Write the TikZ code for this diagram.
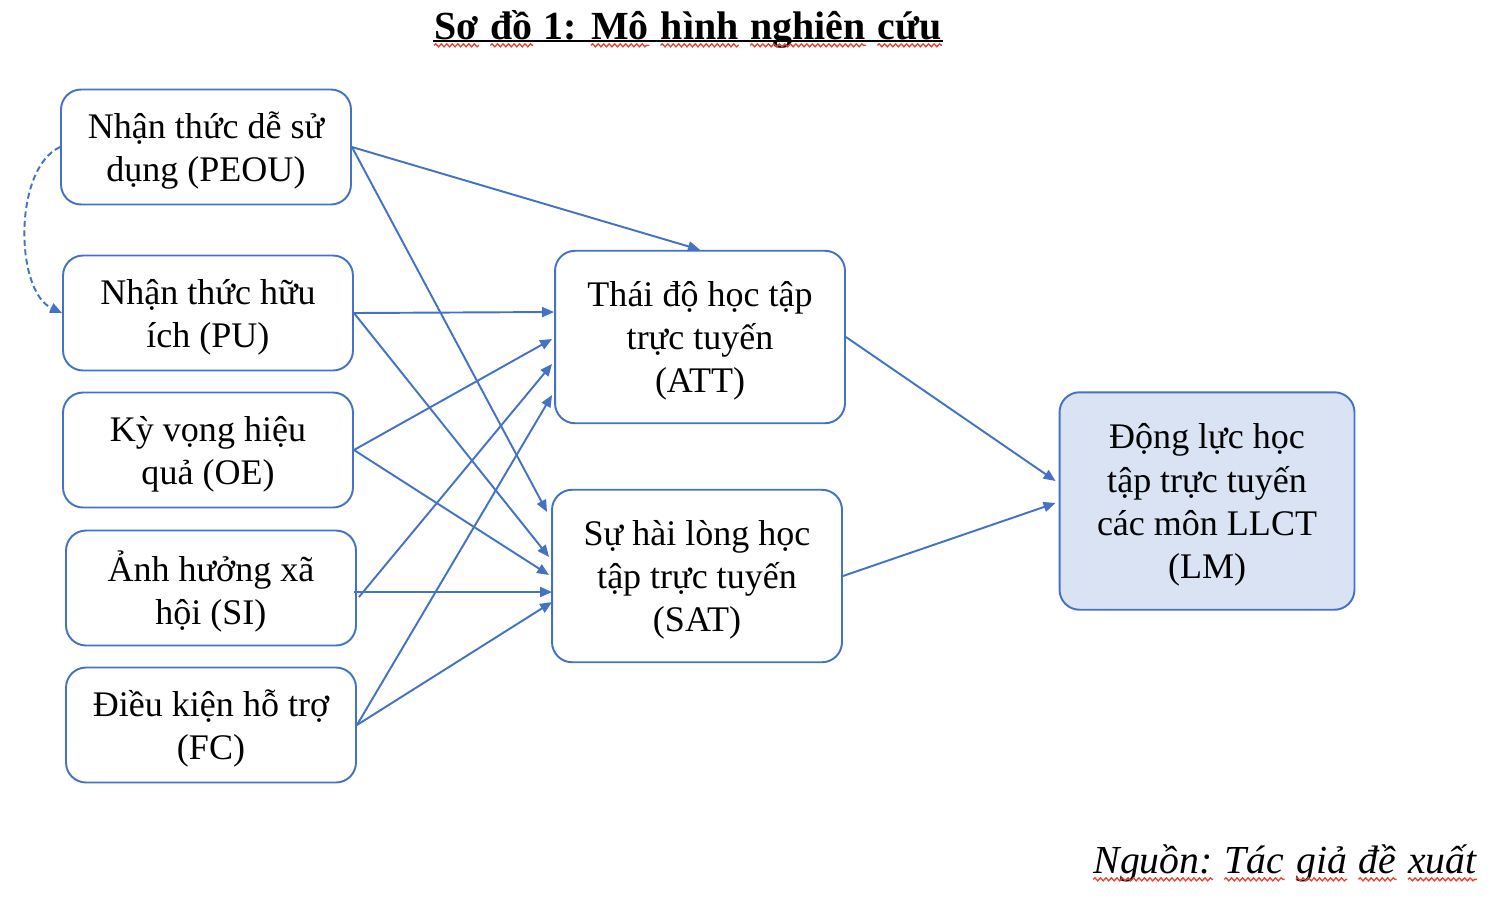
\documentclass[tikz,border=0pt]{standalone}
\usepackage{fontspec}
\setmainfont{Liberation Serif}
\usetikzlibrary{arrows.meta,calc,decorations.pathmorphing}
\definecolor{linkblue}{HTML}{4472C4}
\definecolor{lmfill}{HTML}{DAE3F3}
\definecolor{spellred}{HTML}{E8412E}
\tikzset{
  factor/.style={draw=linkblue, line width=1.1pt, rounded corners=0.4cm, align=center,
    minimum width=5.8cm, minimum height=2.3cm, inner sep=0pt, text depth=-1.5pt,
    font=\fontsize{20.5}{24.5}\selectfont},
  link/.style={draw=linkblue, line width=1.1pt, -{Triangle[length=0.24cm,width=0.2cm]}},
  squiggle/.style={draw=spellred, line width=0.75pt, decorate,
    decoration={snake,amplitude=0.03cm,segment length=0.11cm}}
}
%% red spell-check wave under a word
\newcommand\spellword[1]{\tikz[baseline=(w.base)]{\node[inner sep=0pt, anchor=base] (w) {#1};
  \draw[squiggle] ([yshift=-3.6pt]w.base west) -- ([yshift=-3.6pt]w.base east);}}
\begin{document}
\begin{tikzpicture}[x=0.02cm,y=-0.02cm]
    \useasboundingbox (0,0) rectangle (1500,914);
    %% title
    \node[font=\fontsize{22.7}{27}\selectfont\bfseries, inner sep=0pt, anchor=base] (title) at (688,39)
        {\spellword{Sơ} \spellword{đồ} 1: \spellword{Mô} \spellword{hình} \spellword{nghiên} \spellword{cứu}};
    \draw[line width=1pt] ([yshift=-1.2pt]title.base west) -- ([yshift=-1.2pt]title.base east);
    %% factors
    \node[factor] (peou) at (206,147) {Nhận thức dễ sử\\dụng (PEOU)};
    \node[factor] (pu) at (208,313) {Nhận thức hữu\\ích (PU)};
    \node[factor] (oe) at (208,450) {Kỳ vọng hiệu\\quả (OE)};
    \node[factor] (si) at (211,588) {Ảnh hưởng xã\\hội (SI)};
    \node[factor] (fc) at (211,725) {Điều kiện hỗ trợ\\(FC)};
    \node[factor, minimum height=3.45cm] (att) at (700,337) {Thái độ học tập\\trực tuyến\\(ATT)};
    \node[factor, minimum height=3.45cm] (sat) at (697,576) {Sự hài lòng học\\tập trực tuyến\\(SAT)};
    \node[factor, fill=lmfill, minimum width=5.9cm, minimum height=4.35cm] (lm) at (1207,501) {Động lực học\\tập trực tuyến\\các môn LLCT\\(LM)};
    %% links
    \draw[link, dash pattern=on 3.4pt off 2pt] (peou.west) to[out=205,in=155,looseness=0.8] (pu.west);
    \draw[link] (peou.east) -- (att.north);
    \draw[link] (peou.east) -- ($(sat.west)+(-4,-64)$);
    \draw[link] (pu.east) -- ($(att.west)+(0,-25)$);
    \draw[link] (pu.east) -- ($(sat.west)+(-2,-19)$);
    \draw[link] (oe.east) -- ($(att.west)+(-2,2)$);
    \draw[link] (oe.east) -- ($(sat.west)+(-2,-1)$);
    \draw[link] ($(si.east)+(2,9)$) -- ($(att.west)+(-2,27)$);
    \draw[link] ($(si.east)+(-3,4)$) -- ($(sat.west)+(1,16)$);
    \draw[link] (fc.east) -- ($(att.west)+(-2,58)$);
    \draw[link] (fc.east) -- ($(sat.west)+(1,26)$);
    \draw[link] (att.east) -- ($(lm.west)+(-3,-20)$);
    \draw[link] (sat.east) -- ($(lm.west)+(-3,2)$);
    %% source
    \node[font=\fontsize{22.6}{27}\selectfont\itshape, inner sep=0pt, anchor=base east] (source) at (1478,873)
        {\spellword{Nguồn:} \spellword{Tác} \spellword{giả} \spellword{đề} \spellword{xuất}};
\end{tikzpicture}
\end{document}
